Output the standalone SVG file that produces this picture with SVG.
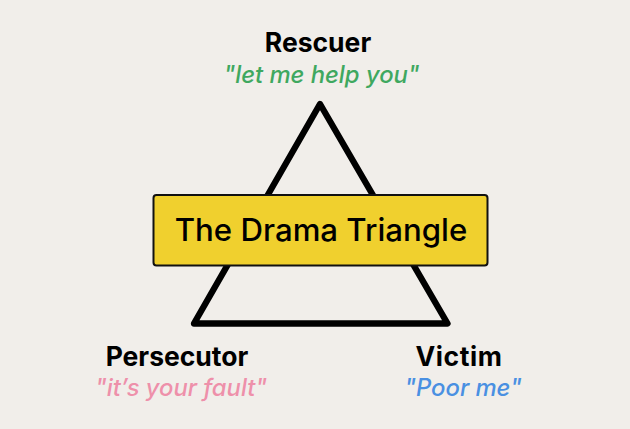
<svg xmlns="http://www.w3.org/2000/svg" width="630" height="429" viewBox="0 0 630 429">
<style>
text{font-family:"Inter","Noto Sans","Liberation Sans",sans-serif;text-anchor:middle}
.h{font-size:26.5px;font-weight:700;fill:#000}
.q{font-size:23.800px;font-style:italic;font-weight:500}
</style>
<rect width="630" height="429" fill="#f1eeea"/>
<g id="connectors"><path d="M320 104L447.500 323.500H194Z" fill="none" stroke="#000" stroke-width="6.300" stroke-linejoin="round"/></g>
<g id="center"><rect x="153.500" y="195" width="334" height="70.500" rx="3" fill="#f0d02e" stroke="#111" stroke-width="2"/>
<text x="321" y="241" font-size="31.200" font-weight="500" fill="#000">The Drama Triangle</text></g>
<g id="rescuer"><text class="h" x="318" y="52">Rescuer</text><text class="q" x="321.500" y="82.500" fill="#3fa85f">"let me help you"</text></g>
<g id="persecutor"><text class="h" x="177" y="366">Persecutor</text><text class="q" x="181" y="396" fill="#ee90aa">"it’s your fault"</text></g>
<g id="victim"><text class="h" x="459" y="366" letter-spacing="0.600">Victim</text><text class="q" x="463" y="396" fill="#4a90e2">"Poor me"</text></g>
</svg>
